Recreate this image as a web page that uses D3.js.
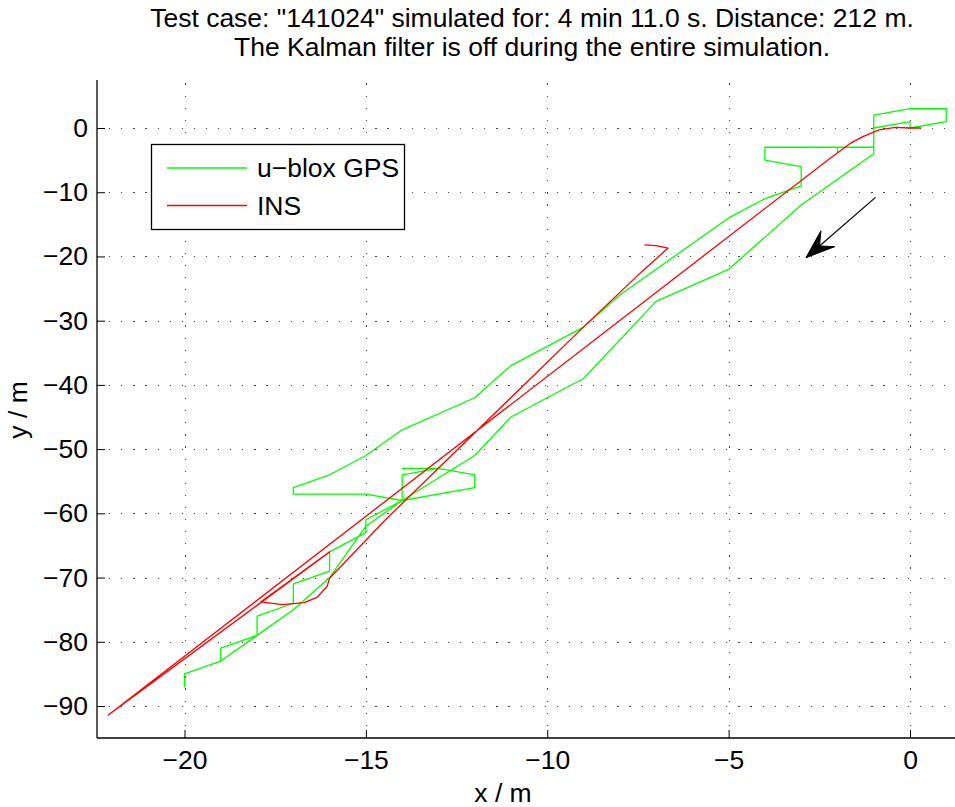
<!DOCTYPE html>
<html><head><meta charset="utf-8">
<script src="https://cdn.jsdelivr.net/npm/d3@7"></script>
<style>
body{margin:0;background:#fff}
svg{display:block}
text{font-family:"Liberation Sans",Arial,Helvetica,sans-serif;fill:#000}
</style>
</head><body>
<svg id="chart" width="955" height="807"></svg>
<script>
// ---------- data ----------
const titleLines = ['Test case: "141024" simulated for: 4 min 11.0 s. Distance: 212 m.',
                    'The Kalman filter is off during the entire simulation.'];
const xLabel = "x / m";
const yLabel = "y / m";
const xTicks = [-20, -15, -10, -5, 0];
const yTicks = [0, -10, -20, -30, -40, -50, -60, -70, -80, -90];
const legendLabels = ["u\u2212blox GPS", "INS"];

// u-blox GPS track (m)
const gpsX = [0, 0, -1, -1, -3, -5, -7, -9, -11, -12, -14, -15, -15, -16, -16, -17, -17, -18, -18, -19, -19, -20, -20,
              -20, -19, -18, -17, -16, -15, -14, -14, -13, -14, -13, -12, -12, -14, -15, -17, -17, -16, -15, -14, -12,
              -11, -9, -8, -5, -4, -3, -3, -4, -4, -2, -2, -2, -1, -1, 0, 1, 1, 0];
const gpsY = [0, 1, 0, -4, -12, -22, -27, -39, -45, -51, -58, -61, -63, -66, -69, -71, -74, -76, -79, -81, -83, -85, -87,
              -85, -83, -79, -75, -70, -62, -58, -54, -53, -53, -53, -54, -56, -58, -57, -57, -56, -54, -51, -47, -42,
              -37, -31, -26, -14, -11, -9, -6, -5, -3, -3, -3.8, -3, -3, 2, 3, 3, 1, 0];

// INS track (m)
const insX = [0.3, 0, -0.4, -0.85, -1.3, -1.65, -2.2, -22.1, -16.0, -17.9, -17.3, -16.7, -16.35, -16.07, -16.0,
              -14.46, -9.04, -7.44, -6.67, -7.0, -7.32];
const insY = [0, 0, 0.1, -0.3, -1.35, -2.4, -4.7, -91.4, -66.0, -73.8, -74.2, -73.9, -73.1, -71.4, -70.1,
              -61.0, -31.2, -22.6, -18.7, -18.3, -18.2];

// direction arrow (data coords, tail -> tip)
const arrowX = [-0.95, -2.87];
const arrowY = [-10.8, -20.2];

// ---------- layout ----------
const L = 97, R = 955, T = 80, B = 738;
const FS = 26.5;
const svg = d3.select("#chart");

const x = d3.scaleLinear().domain([-20, 0]).range([184.5, 910]);
const y = d3.scaleLinear().domain([0, -90]).range([128, 706]);

svg.append("defs").append("clipPath").attr("id", "plotclip")
  .append("rect").attr("x", L).attr("y", T).attr("width", R - L).attr("height", B - T);

// grid
const grid = svg.append("g").attr("stroke", "#444").attr("stroke-width", 1)
  .attr("stroke-dasharray", "1.2 10.9").attr("shape-rendering", "crispEdges");
grid.selectAll("line.gx").data(xTicks).join("line").attr("class", "gx")
  .attr("x1", d => Math.round(x(d)) + 0.5).attr("x2", d => Math.round(x(d)) + 0.5)
  .attr("y1", B).attr("y2", T);
grid.selectAll("line.gy").data(yTicks).join("line").attr("class", "gy")
  .attr("y1", d => Math.round(y(d)) + 0.5).attr("y2", d => Math.round(y(d)) + 0.5)
  .attr("x1", L).attr("x2", R);

// data lines
const plot = svg.append("g").attr("clip-path", "url(#plotclip)");
const line = d3.line().x(d => x(d[0])).y(d => y(d[1]));
plot.append("path").datum(gpsX.map((v, i) => [v, gpsY[i]]))
  .attr("d", line).attr("fill", "none").attr("stroke", "#00ff00").attr("stroke-width", 1.3)
  .attr("stroke-linejoin", "round");
plot.append("path").datum(insX.map((v, i) => [v, insY[i]]))
  .attr("d", line).attr("fill", "none").attr("stroke", "#ff0000").attr("stroke-width", 1.3)
  .attr("stroke-linejoin", "round");

// arrow
{
  const x0 = x(arrowX[0]), y0 = y(arrowY[0]), x1 = x(arrowX[1]), y1 = y(arrowY[1]);
  const dx = x1 - x0, dy = y1 - y0, len = Math.hypot(dx, dy);
  const ux = dx / len, uy = dy / len, px = -uy, py = ux;
  const hl = 29, hw = 10.5, notch = 18;
  const bx = x1 - ux * hl, by = y1 - uy * hl;
  const nx = x1 - ux * notch, ny = y1 - uy * notch;
  svg.append("line").attr("x1", x0).attr("y1", y0).attr("x2", nx).attr("y2", ny)
    .attr("stroke", "#000").attr("stroke-width", 1.2);
  svg.append("path").attr("d",
    `M${x1},${y1}L${bx + px * hw},${by + py * hw}L${nx},${ny}L${bx - px * hw},${by - py * hw}Z`)
    .attr("fill", "#000").attr("stroke", "#000").attr("stroke-width", 1);
}

// axes
const xAxis = d3.axisBottom(x).tickValues(xTicks).tickSizeInner(-8).tickSizeOuter(0).tickPadding(12);
const yAxis = d3.axisLeft(y).tickValues(yTicks).tickSizeInner(-8).tickSizeOuter(0).tickPadding(9);
const gx = svg.append("g").attr("transform", `translate(0,${B})`).call(xAxis);
const gy = svg.append("g").attr("transform", `translate(${L},0)`).call(yAxis);
[gx, gy].forEach(g => {
  g.select(".domain").remove();
  g.selectAll("line").attr("stroke", "#000").attr("stroke-width", 1);
  g.selectAll("text").attr("font-size", FS).attr("font-family", '"Liberation Sans",Arial,sans-serif').attr("fill", "#000");
});
svg.append("line").attr("x1", L).attr("x2", R).attr("y1", B).attr("y2", B).attr("stroke", "#000").attr("stroke-width", 1.3);
svg.append("line").attr("x1", L).attr("x2", L).attr("y1", T).attr("y2", B).attr("stroke", "#000").attr("stroke-width", 1.3);

// labels
svg.append("text").attr("x", 503).attr("y", 802).attr("text-anchor", "middle").attr("font-size", FS).text(xLabel);
svg.append("text").attr("transform", "translate(27,410) rotate(-90)").attr("text-anchor", "middle")
  .attr("font-size", FS).text(yLabel);
svg.selectAll("text.title").data(titleLines).join("text").attr("class", "title")
  .attr("x", 532).attr("y", (d, i) => 27 + i * 29).attr("text-anchor", "middle").attr("font-size", FS).text(d => d);

// legend
const lg = svg.append("g");
lg.append("rect").attr("x", 151.5).attr("y", 144.5).attr("width", 253).attr("height", 85)
  .attr("fill", "#fff").attr("stroke", "#000").attr("stroke-width", 1.3);
const legColors = ["#00ff00", "#ff0000"];
legendLabels.forEach((lab, i) => {
  const cy = 168 + i * 37.5;
  lg.append("line").attr("x1", 167).attr("x2", 247).attr("y1", cy).attr("y2", cy)
    .attr("stroke", legColors[i]).attr("stroke-width", 1.3);
  lg.append("text").attr("x", 257).attr("y", cy + 9).attr("font-size", FS).text(lab);
});
</script>
</body></html>
